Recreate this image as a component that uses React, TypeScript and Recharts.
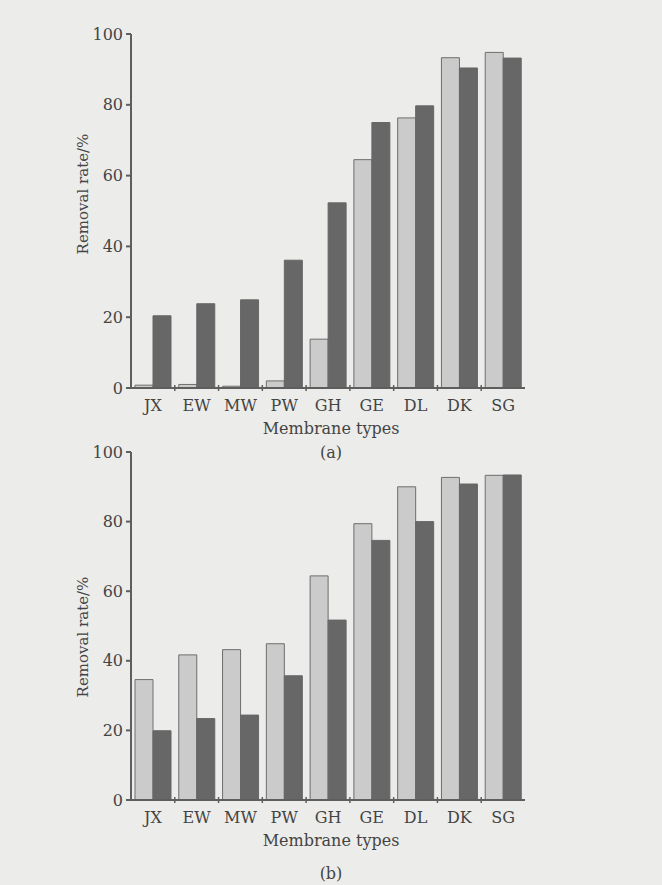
import React from "react";
import { Bar, BarChart, Label, XAxis, YAxis } from "recharts";

const membranes = ["JX", "EW", "MW", "PW", "GH", "GE", "DL", "DK", "SG"];
const yTicks = [0, 20, 40, 60, 80, 100];

// panel (a)
const lightA = [0.8, 1, 0.5, 2, 13.8, 64.5, 76.3, 93.3, 94.8];
const darkA = [20.4, 23.8, 24.9, 36.1, 52.3, 75, 79.7, 90.4, 93.2];

// panel (b)
const lightB = [34.6, 41.7, 43.2, 44.9, 64.4, 79.4, 90, 92.7, 93.3];
const darkB = [19.9, 23.4, 24.4, 35.7, 51.7, 74.6, 80, 90.8, 93.4];

const FONT = "'DejaVu Serif', serif";
const INK = "#444444";
const AXIS = "#5e5e5e";
const LIGHT = "#cbcbcb";
const DARK = "#676767";

const WIDTH = 662;
const PLOT_LEFT = 131;
const PLOT_RIGHT = 525;
const BAND = (PLOT_RIGHT - PLOT_LEFT) / membranes.length;

function buildRows(light: number[], dark: number[]) {
  return membranes.map((name, i) => ({ name, light: light[i], dark: dark[i] }));
}

function CategoryTick(props: any) {
  const { x, y, payload, index } = props;
  return (
    <g>
      {index < membranes.length - 1 && (
        <line x1={x + BAND / 2} x2={x + BAND / 2} y1={y - 3} y2={y + 3} stroke={AXIS} strokeWidth={1.5} />
      )}
      <text x={x} y={y + 23} textAnchor="middle" fill={INK} fontFamily={FONT} fontSize={16}>
        {payload.value}
      </text>
    </g>
  );
}

function Panel({
  top,
  height,
  plotTop,
  plotBottom,
  light,
  dark,
  caption,
  captionGap,
  yLabelCenter
}: {
  top: number;
  height: number;
  plotTop: number;
  plotBottom: number;
  light: number[];
  dark: number[];
  caption: string;
  captionGap: number;
  yLabelCenter: number;
}) {
  const rows = buildRows(light, dark);
  const xAxisHeight = 30;
  return (
    <div style={{ position: "absolute", left: 0, top, width: WIDTH, height }}>
      <BarChart
        width={WIDTH}
        height={height}
        data={rows}
        barSize={18}
        barGap={0}
        margin={{
          top: plotTop,
          left: PLOT_LEFT - 50,
          right: WIDTH - PLOT_RIGHT,
          bottom: height - plotBottom - xAxisHeight
        }}
      >
        <XAxis
          dataKey="name"
          height={xAxisHeight}
          stroke={AXIS}
          strokeWidth={2}
          tickLine={false}
          tickSize={0}
          tickMargin={0}
          interval={0}
          tick={<CategoryTick />}
        >
          <Label
            content={() => (
              <g fontFamily={FONT} fill={INK} textAnchor="middle" fontSize={16}>
                <text x={331} y={plotBottom + 46}>Membrane types</text>
                <text x={331} y={plotBottom + 46 + captionGap}>{caption}</text>
              </g>
            )}
          />
        </XAxis>
        <YAxis
          width={50}
          domain={[0, 100]}
          ticks={yTicks}
          allowDataOverflow
          stroke={AXIS}
          strokeWidth={2}
          tickSize={5}
          tickMargin={3}
          tick={{ fill: INK, fontFamily: FONT, fontSize: 16 }}
        >
          <Label
            content={() => (
              <text
                x={83}
                y={yLabelCenter}
                transform={`rotate(-90 83 ${yLabelCenter})`}
                textAnchor="middle"
                dominantBaseline="central"
                fontFamily={FONT}
                fontSize={15}
                fill={INK}
              >
                Removal rate/%
              </text>
            )}
          />
        </YAxis>
        <Bar dataKey="light" fill={LIGHT} stroke="#6e6e6e" strokeWidth={1} isAnimationActive={false} />
        <Bar dataKey="dark" fill={DARK} stroke={DARK} strokeWidth={1} isAnimationActive={false} />
      </BarChart>
    </div>
  );
}

export default function App() {
  return (
    <div
      style={{
        position: "absolute",
        left: 0,
        top: 0,
        width: WIDTH,
        height: 885,
        background: "#ececea",
        overflow: "hidden"
      }}
    >
      <Panel
        top={0}
        height={470}
        plotTop={34}
        plotBottom={388}
        light={lightA}
        dark={darkA}
        caption="(a)"
        captionGap={24}
        yLabelCenter={194}
      />
      <Panel
        top={420}
        height={465}
        plotTop={32}
        plotBottom={380}
        light={lightB}
        dark={darkB}
        caption="(b)"
        captionGap={33}
        yLabelCenter={217}
      />
    </div>
  );
}
